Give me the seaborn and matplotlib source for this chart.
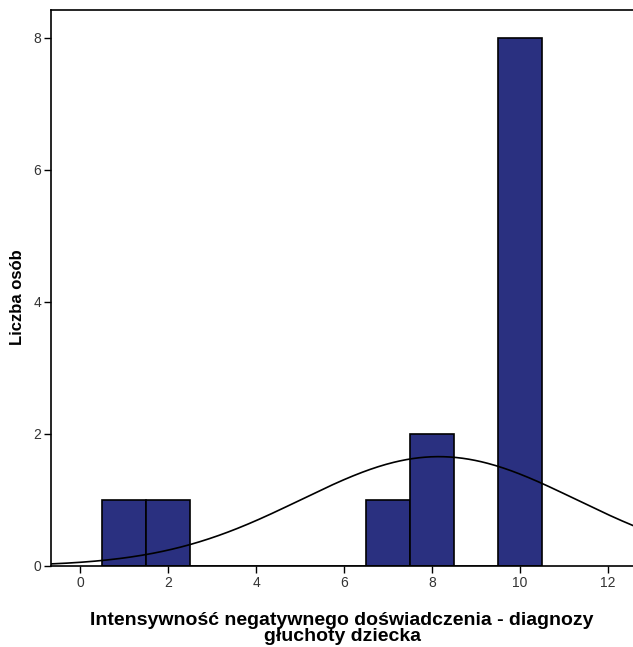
import numpy as np
import pandas as pd
import matplotlib
matplotlib.use("Agg")
import matplotlib.pyplot as plt
import seaborn as sns

# Data
values = [1, 2, 7, 8, 10]
counts = [1, 1, 1, 2, 8]
x_ticks = [0, 2, 4, 6, 8, 10, 12]
y_ticks = [0, 2, 4, 6, 8]
xlabel = "Intensywność negatywnego doświadczenia - diagnozy\ngłuchoty dziecka"
ylabel = "Liczba osób"

sns.set_theme(style="white")
plt.rcParams['font.family'] = ['Liberation Sans', 'DejaVu Sans']

df = pd.DataFrame({"value": values, "count": counts})

fig = plt.figure(figsize=(6.33, 6.47), dpi=100)
ax = fig.add_axes([0.0806, 0.1252, 0.9194, 0.8593])

sns.histplot(data=df, x="value", weights="count", discrete=True, ax=ax,
             color="#2a3080", edgecolor="black", linewidth=1.2, alpha=1.0)

# Normal curve fitted to the data
n = sum(counts)
arr = np.repeat(values, counts)
mu = arr.mean()
sd = arr.std(ddof=1)
xs = np.linspace(-0.7, 13.5, 400)
ys = n * 1.0 / (sd * np.sqrt(2 * np.pi)) * np.exp(-0.5 * ((xs - mu) / sd) ** 2)
sns.lineplot(x=xs, y=ys, ax=ax, color="black", linewidth=1.2)

ax.set_xlim(-0.66, 12.57)
ax.set_ylim(0, 8.42)
ax.set_xticks(x_ticks)
ax.set_yticks(y_ticks)
ax.tick_params(axis="both", direction="out", length=5, width=1, colors="black",
               labelsize=10, labelcolor="#333333", bottom=True, left=True, pad=2)
for s in ["left", "bottom", "top"]:
    ax.spines[s].set_visible(True)
    ax.spines[s].set_color("black")
    ax.spines[s].set_linewidth(1.2)
ax.spines["right"].set_visible(False)
ax.grid(False)

ax.set_xlabel(xlabel, fontsize=14, fontweight="bold", labelpad=16, linespacing=0.9,
              color="black")
ax.set_ylabel(ylabel, fontsize=12, fontweight="bold", color="black")
ax.yaxis.set_label_coords(-0.045, 0.484)

fig.savefig("out.png", dpi=100)
